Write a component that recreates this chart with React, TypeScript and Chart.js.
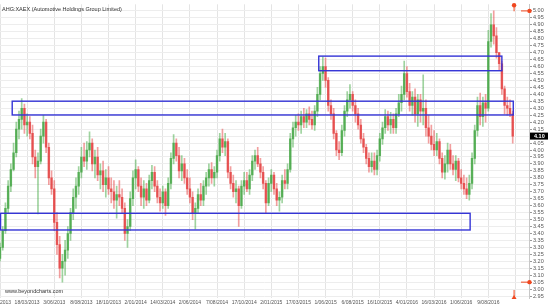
import { useEffect, useRef } from "react";
import { Chart, registerables } from "chart.js";
Chart.register(...registerables);

const TITLE = "AHG:XAEX (Automotive Holdings Group Limited)";
const WATERMARK = "www.beyondcharts.com";
const FONT = "Arial, 'Liberation Sans', sans-serif";

// one tick label every 10 weekly slots
const tickDates = [
  "4/01/2013", "18/03/2013", "3/06/2013", "8/08/2013", "18/10/2013", "2/01/2014",
  "14/03/2014", "2/06/2014", "7/08/2014", "17/10/2014", "2/01/2015", "17/03/2015",
  "1/06/2015", "6/08/2015", "16/10/2015", "4/01/2016", "16/03/2016", "1/06/2016", "9/08/2016",
];
const SLOTS_PER_TICK = 10;
const TOTAL_SLOTS = 196;

const opens = [
  3.22,3.30,3.42,3.58,3.74,3.86,3.98,4.15,4.22,4.30,
  4.18,4.20,4.12,3.95,3.88,3.92,4.10,4.20,4.02,3.80,
  3.72,3.48,3.32,3.15,3.20,3.28,3.40,3.55,3.66,3.74,
  3.84,3.95,3.92,4.00,4.05,3.90,3.95,3.82,3.85,3.75,
  3.80,3.72,3.70,3.64,3.68,3.66,3.58,3.40,3.45,3.65,
  3.80,3.86,3.74,3.66,3.72,3.64,3.78,3.84,3.74,3.66,
  3.62,3.70,3.60,3.76,3.94,4.05,3.96,3.85,3.90,3.80,
  3.72,3.66,3.55,3.58,3.68,3.64,3.74,3.80,3.86,3.80,
  3.84,3.96,4.08,4.02,4.06,3.84,3.76,3.70,3.72,3.60,
  3.74,3.78,3.72,3.82,3.92,3.96,3.90,3.84,3.76,3.62,
  3.76,3.82,3.72,3.64,3.66,3.78,3.76,3.86,4.08,4.16,
  4.20,4.18,4.24,4.20,4.26,4.22,4.18,4.28,4.40,4.55,
  4.60,4.50,4.32,4.26,4.12,4.00,3.98,4.14,4.28,4.36,
  4.40,4.32,4.26,4.18,4.08,4.02,3.94,3.88,3.92,3.86,
  3.96,4.08,4.16,4.24,4.18,4.22,4.16,4.26,4.34,4.40,
  4.55,4.42,4.32,4.38,4.26,4.36,4.28,4.30,4.16,4.10,
  4.04,4.00,4.06,3.94,3.84,3.90,4.00,3.90,3.86,3.92,
  3.80,3.76,3.72,3.68,3.76,3.94,4.14,4.32,4.24,4.34,
  4.30,4.78,4.90,4.82,4.70,4.62,4.44,4.32,4.30,4.26,
];
const highs = [
  3.33,3.45,3.62,3.78,3.90,4.05,4.20,4.28,4.37,4.33,
  4.26,4.24,4.18,4.00,3.98,4.15,4.25,4.22,4.05,3.85,
  3.78,3.55,3.38,3.25,3.35,3.45,3.58,3.72,3.80,3.88,
  4.02,4.05,4.06,4.13,4.08,4.00,4.02,3.90,3.92,3.86,
  3.88,3.80,3.78,3.74,3.78,3.72,3.62,3.50,3.70,3.85,
  3.93,3.88,3.80,3.78,3.76,3.82,3.89,3.88,3.78,3.72,
  3.74,3.72,3.80,3.98,4.11,4.08,4.02,3.96,3.94,3.86,
  3.80,3.70,3.62,3.72,3.76,3.78,3.84,3.90,3.91,3.88,
  4.00,4.12,4.15,4.12,4.08,3.88,3.82,3.78,3.74,3.78,
  3.84,3.84,3.86,3.96,4.00,4.02,3.94,3.88,3.78,3.80,
  3.86,3.84,3.76,3.70,3.82,3.86,3.90,4.12,4.20,4.25,
  4.26,4.28,4.30,4.29,4.31,4.28,4.32,4.45,4.60,4.67,
  4.66,4.52,4.36,4.30,4.14,4.06,4.18,4.32,4.42,4.47,
  4.42,4.36,4.30,4.22,4.12,4.04,3.98,3.98,3.98,4.00,
  4.12,4.20,4.29,4.28,4.27,4.26,4.30,4.40,4.46,4.64,
  4.60,4.48,4.42,4.44,4.40,4.40,4.54,4.36,4.25,4.18,
  4.14,4.12,4.08,3.98,3.96,4.05,4.04,3.96,3.96,3.94,
  3.86,3.82,3.80,3.82,3.98,4.18,4.38,4.41,4.38,4.40,
  4.86,4.98,5.00,4.88,4.70,4.64,4.46,4.38,4.36,4.28,
];
const lows = [
  3.20,3.28,3.40,3.55,3.70,3.85,3.95,4.08,4.15,4.12,
  4.10,4.08,3.90,3.80,3.54,3.90,4.05,3.98,3.75,3.68,
  3.42,3.25,3.08,3.05,3.10,3.22,3.35,3.50,3.58,3.68,
  3.80,3.88,3.86,3.95,3.85,3.80,3.78,3.72,3.70,3.66,
  3.68,3.62,3.58,3.51,3.60,3.55,3.35,3.30,3.42,3.60,
  3.72,3.70,3.60,3.58,3.60,3.62,3.72,3.70,3.62,3.56,
  3.58,3.53,3.58,3.72,3.90,3.92,3.80,3.78,3.76,3.68,
  3.62,3.50,3.43,3.55,3.60,3.60,3.68,3.74,3.76,3.74,
  3.80,3.92,3.98,3.96,3.80,3.72,3.66,3.62,3.45,3.58,
  3.68,3.70,3.68,3.78,3.86,3.88,3.80,3.72,3.55,3.60,
  3.70,3.68,3.60,3.56,3.62,3.72,3.72,3.84,4.02,4.10,
  4.14,4.12,4.16,4.16,4.18,4.15,4.14,4.24,4.36,4.50,
  4.45,4.28,4.22,4.08,3.96,3.93,3.96,4.10,4.24,4.30,
  4.28,4.20,4.15,4.05,3.98,3.90,3.84,3.84,3.82,3.82,
  3.92,4.04,4.12,4.14,4.12,4.12,4.12,4.24,4.28,4.36,
  4.38,4.28,4.25,4.20,4.17,4.20,4.18,4.10,4.05,4.00,
  3.96,3.96,3.90,3.80,3.79,3.84,3.86,3.82,3.78,3.77,
  3.72,3.68,3.65,3.64,3.72,3.90,4.10,4.18,4.17,4.20,
  4.28,4.74,4.76,4.66,4.57,4.40,4.26,4.25,4.24,4.05,
];
const closes = [
  3.30,3.42,3.58,3.74,3.86,3.98,4.15,4.22,4.30,4.18,
  4.20,4.12,3.95,3.88,3.92,4.10,4.20,4.02,3.80,3.72,
  3.48,3.32,3.15,3.20,3.28,3.40,3.55,3.66,3.74,3.84,
  3.95,3.92,4.00,4.05,3.90,3.95,3.82,3.85,3.75,3.80,
  3.72,3.70,3.64,3.68,3.66,3.58,3.40,3.45,3.65,3.80,
  3.86,3.74,3.66,3.72,3.64,3.78,3.84,3.74,3.66,3.62,
  3.70,3.60,3.76,3.94,4.05,3.96,3.85,3.90,3.80,3.72,
  3.66,3.55,3.58,3.68,3.64,3.74,3.80,3.86,3.80,3.84,
  3.96,4.08,4.02,4.06,3.84,3.76,3.70,3.72,3.60,3.74,
  3.78,3.72,3.82,3.92,3.96,3.90,3.84,3.76,3.62,3.76,
  3.82,3.72,3.64,3.66,3.78,3.76,3.86,4.08,4.16,4.20,
  4.18,4.24,4.20,4.26,4.22,4.18,4.28,4.40,4.55,4.60,
  4.50,4.32,4.26,4.12,4.00,3.98,4.14,4.28,4.36,4.40,
  4.32,4.26,4.18,4.08,4.02,3.94,3.88,3.92,3.86,3.96,
  4.08,4.16,4.24,4.18,4.22,4.16,4.26,4.34,4.40,4.55,
  4.42,4.32,4.38,4.26,4.36,4.28,4.30,4.16,4.10,4.04,
  4.00,4.06,3.94,3.84,3.90,4.00,3.90,3.86,3.92,3.80,
  3.76,3.72,3.68,3.76,3.94,4.14,4.32,4.24,4.34,4.30,
  4.78,4.90,4.82,4.70,4.62,4.44,4.32,4.30,4.26,4.10,
];

const lastPrice = 4.1;
const periodHigh = 5.0;
const periodLow = 3.05;
const markerSlot = 189.5;

// support / resistance zones (slot range, price range)
const zoneFrom = [4.5, 117.5, 0.2];
const zoneTo = [189.2, 185.0, 173.3];
const zoneLow = [4.252, 4.57, 3.425];
const zoneHigh = [4.351, 4.675, 3.545];

const Y_MIN = 2.936;
const Y_MAX = 5.0475;

const GREEN = "rgba(56,160,56,0.72)";
const RED = "rgba(226,50,50,0.72)";
const GREEN_W = "rgba(80,175,80,0.55)";
const RED_W = "rgba(232,80,80,0.55)";
const MARK = "#f0471f";

export default function App() {
  const ref = useRef<HTMLCanvasElement | null>(null);

  useEffect(() => {
    const canvas = ref.current;
    if (!canvas) return;

    const labels: string[] = [];
    for (let i = 0; i < TOTAL_SLOTS; i++) {
      labels.push(i % SLOTS_PER_TICK === 0 ? tickDates[i / SLOTS_PER_TICK] || "" : "");
    }
    const up = closes.map((c, i) => c >= opens[i]);
    const wickData: any[] = [];
    const bodyData: any[] = [];
    for (let i = 0; i < TOTAL_SLOTS; i++) {
      if (i < closes.length) {
        wickData.push([lows[i], highs[i]]);
        const a = Math.min(opens[i], closes[i]);
        const b = Math.max(opens[i], closes[i]);
        bodyData.push([a, b === a ? a + 0.004 : b]);
      } else {
        wickData.push(null);
        bodyData.push(null);
      }
    }

    const overlay = {
      id: "overlay",
      afterDatasetsDraw(chart: any) {
        const { ctx, chartArea, scales } = chart;
        const xs = scales.x;
        const ys = scales.y;
        ctx.save();
        // zones
        ctx.strokeStyle = "#3434d6";
        ctx.lineWidth = 1.4;
        for (let i = 0; i < zoneFrom.length; i++) {
          const x1 = xs.getPixelForValue(zoneFrom[i]);
          const x2 = xs.getPixelForValue(zoneTo[i]);
          const y1 = ys.getPixelForValue(zoneHigh[i]);
          const y2 = ys.getPixelForValue(zoneLow[i]);
          ctx.strokeRect(x1, y1, x2 - x1, y2 - y1);
        }
        // title + watermark
        ctx.fillStyle = "#333";
        ctx.font = `5.5px ${FONT}`;
        ctx.textBaseline = "alphabetic";
        ctx.textAlign = "left";
        ctx.fillText(TITLE, chartArea.left + 2, chartArea.top + 7);
        ctx.fillText(WATERMARK, chartArea.left + 5, chartArea.bottom - 5);
        // markers
        const mx = xs.getPixelForValue(markerSlot);
        const yh = ys.getPixelForValue(periodHigh);
        const yl = ys.getPixelForValue(periodLow);
        ctx.strokeStyle = MARK;
        ctx.fillStyle = MARK;
        ctx.lineWidth = 1;
        ctx.beginPath();
        ctx.moveTo(mx, chartArea.top);
        ctx.lineTo(mx, chartArea.top + 7);
        ctx.moveTo(mx, chartArea.bottom);
        ctx.lineTo(mx, chartArea.bottom - 8);
        ctx.moveTo(chartArea.right - 8, yh);
        ctx.lineTo(chartArea.right, yh);
        ctx.moveTo(chartArea.right - 8, yl);
        ctx.lineTo(chartArea.right, yl);
        ctx.stroke();
        ctx.beginPath();
        ctx.arc(mx, chartArea.top + 1, 2.2, 0, Math.PI * 2);
        ctx.fill();
        ctx.beginPath();
        ctx.arc(chartArea.right + 0.5, yh, 2.2, 0, Math.PI * 2);
        ctx.fill();
        ctx.beginPath();
        ctx.arc(chartArea.right + 0.5, yl, 2.2, 0, Math.PI * 2);
        ctx.fill();
        ctx.beginPath();
        ctx.moveTo(mx - 2.5, chartArea.bottom + 1);
        ctx.lineTo(mx + 2.5, chartArea.bottom + 1);
        ctx.lineTo(mx, chartArea.bottom - 3);
        ctx.closePath();
        ctx.fill();
        // last price tag
        const yp = ys.getPixelForValue(lastPrice);
        ctx.fillStyle = "#000";
        ctx.fillRect(chartArea.right + 1, yp - 3.5, 18, 7);
        ctx.fillStyle = "#fff";
        ctx.font = `bold 5.5px ${FONT}`;
        ctx.textBaseline = "middle";
        ctx.fillText(lastPrice.toFixed(2), chartArea.right + 5, yp + 0.3);
        ctx.restore();
      },
    };

    const chart = new Chart(canvas, {
      type: "bar",
      data: {
        labels,
        datasets: [
          {
            data: wickData,
            backgroundColor: wickData.map((_, i) => (up[i] ? GREEN_W : RED_W)),
            barThickness: 1,
            grouped: false,
            order: 2,
          } as any,
          {
            data: bodyData,
            backgroundColor: bodyData.map((_, i) => (up[i] ? GREEN : RED)),
            barThickness: 1.8,
            grouped: false,
            order: 1,
          } as any,
        ],
      },
      options: {
        animation: false,
        responsive: false,
        devicePixelRatio: 1,
        layout: { padding: { left: 30, top: 0, right: 0, bottom: 0 } },
        plugins: {
          legend: { display: false },
          tooltip: { enabled: false },
        },
        scales: {
          x: {
            type: "category",
            offset: false,
            grid: {
              offset: false,
              drawTicks: false,
              color: (c: any) => (c.index % SLOTS_PER_TICK === 0 ? "#e4e4e4" : "rgba(0,0,0,0)"),
            },
            border: { display: false },
            ticks: {
              autoSkip: false,
              maxRotation: 0,
              minRotation: 0,
              padding: 2,
              color: "#555",
              font: { size: 5, family: FONT },
            },
            afterFit: (s: any) => {
              s.height = 8;
            },
          },
          y: {
            position: "right",
            min: Y_MIN,
            max: Y_MAX,
            grid: { color: "#ededed", tickLength: 3, tickColor: "#999" },
            border: { color: "#c8c8c8" },
            ticks: {
              stepSize: 0.05,
              includeBounds: false,
              autoSkip: false,
              padding: 1,
              color: "#555",
              font: { size: 5.5, family: FONT },
              callback: (v: any) => Number(v).toFixed(2),
            },
            afterFit: (s: any) => {
              s.width = 21;
            },
          },
        },
      },
      plugins: [overlay],
    });
    return () => chart.destroy();
  }, []);

  return (
    <div style={{ position: "fixed", left: -30, top: 0, width: 580, height: 306, background: "#fff" }}>
      <canvas ref={ref} width={580} height={306} style={{ display: "block", width: 580, height: 306 }} />
    </div>
  );
}
